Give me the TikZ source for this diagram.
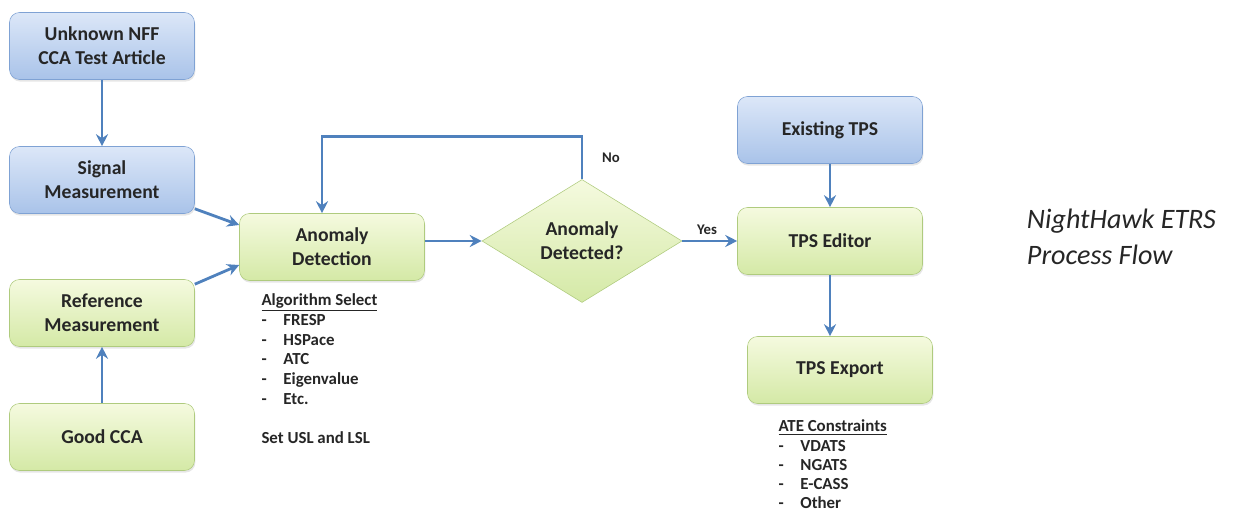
\documentclass[tikz,border=0pt]{standalone}
\usepackage{fontspec}
\setmainfont{Carlito}
\usetikzlibrary{shapes.geometric, arrows.meta, shadows}
\definecolor{flow_blue}{HTML}{4F81BD}
\definecolor{box_blue_top}{HTML}{DCE7F8}
\definecolor{box_blue_bottom}{HTML}{A9C3E9}
\definecolor{box_blue_edge}{HTML}{7FA2D4}
\definecolor{box_green_top}{HTML}{F5FADF}
\definecolor{box_green_bottom}{HTML}{D4E9A6}
\definecolor{box_green_edge}{HTML}{AFCB7E}
\definecolor{label_text}{HTML}{262626}
\tikzstyle{source} = [rectangle, rounded corners=0.25cm, minimum width=4.625cm, minimum height=1.675cm, align=center, draw=box_blue_edge, top color=box_blue_top, bottom color=box_blue_bottom, text=label_text, font=\bfseries\fontsize{14}{17}\selectfont, drop shadow={opacity=0.2, shadow xshift=0.6pt, shadow yshift=-1.5pt}]
\tikzstyle{process} = [source, draw=box_green_edge, top color=box_green_top, bottom color=box_green_bottom]
\tikzstyle{decision} = [diamond, aspect=1.63, minimum width=5cm, minimum height=3.075cm, inner sep=0pt, align=center, draw=box_green_edge, top color=box_green_top, bottom color=box_green_bottom, text=label_text, font=\bfseries\fontsize{14}{17}\selectfont]
\tikzstyle{notes} = [anchor=north west, inner sep=0pt, align=left, text=label_text, font=\bfseries\fontsize{12}{14}\selectfont]
\tikzstyle{answer} = [text=label_text, font=\bfseries\fontsize{10.5}{12}\selectfont]
\tikzstyle{arrow} = [line width=2pt, draw=flow_blue, -{Stealth[length=3mm, width=3mm, inset=1mm]}]
\newcommand{\dashitem}[1]{\makebox[1.3em][l]{-}#1}

\begin{document}
\begin{tikzpicture}[node distance=3cm]
        \useasboundingbox (0,0) rectangle (31.075,-12.8);

        \node (unknown) [source] at (2.55,-1.15) {Unknown NFF \\ CCA Test Article};
        \node (signal) [source, below of=unknown, yshift=-0.35cm] {Signal \\ Measurement};
        \node (reference) [process, below of=signal, yshift=-0.325cm] {Reference \\ Measurement};
        \node (goodcca) [process, below of=reference, yshift=-0.1cm] {Good CCA};

        \node (anomaly) [process, right of=signal, xshift=2.75cm, yshift=-1.675cm] {Anomaly \\ Detection};
        \node (detected) [decision, right of=anomaly, xshift=3.25cm, yshift=0.15cm] {Anomaly \\ Detected?};
        \node (editor) [process, right of=detected, xshift=3.2cm] {TPS Editor};
        \node (existing) [source, above of=editor, yshift=-0.225cm] {Existing TPS};
        \node (export) [process, below of=editor, yshift=-0.225cm, xshift=0.25cm] {TPS Export};

        \node (algorithms) [notes] at ([xshift=0.55cm, yshift=-0.32cm]anomaly.south west) {\underline{Algorithm Select} \\ \dashitem{FRESP} \\ \dashitem{HSPace} \\ \dashitem{ATC} \\ \dashitem{Eigenvalue} \\ \dashitem{Etc.} \\[14pt] Set USL and LSL};
        \node (constraints) [notes, font=\bfseries\fontsize{12}{13.7}\selectfont] at ([xshift=0.775cm, yshift=-0.4cm]export.south west) {\underline{ATE Constraints} \\ \dashitem{VDATS} \\ \dashitem{NGATS} \\ \dashitem{E-CASS} \\ \dashitem{Other}};

        \node (title) [anchor=west, align=left, text=label_text, font=\itshape\fontsize{20}{26}\selectfont] at (25.55,-5.925) {NightHawk ETRS \\ Process Flow};

        \draw [arrow] (unknown) -- (signal);
        \draw [arrow] (goodcca) -- (reference);
        \draw [arrow] ([yshift=0.125cm]signal.south east) -- ([yshift=0.55cm]anomaly.west);
        \draw [arrow] ([yshift=-0.125cm]reference.north east) -- ([yshift=-0.45cm]anomaly.west);
        \draw [arrow] (anomaly.east |- detected.west) -- (detected.west);
        \draw [arrow] (detected.north) -- node[answer, right, xshift=0.35cm] {No} ++(0,1.075) -| ([xshift=-0.25cm]anomaly.north);
        \draw [arrow] (detected) -- node[answer, above, pos=0.45] {Yes} (editor);
        \draw [arrow] (existing) -- (editor);
        \draw [arrow] (editor.south) -- ([xshift=-0.25cm]export.north);
    \end{tikzpicture}
\end{document}
